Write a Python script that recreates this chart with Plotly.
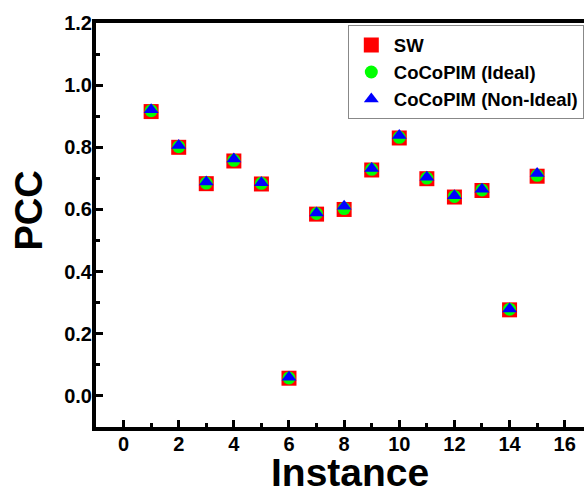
import plotly.graph_objects as go

instances = list(range(1, 16))
sw = [0.915, 0.800, 0.683, 0.756, 0.682, 0.057, 0.585, 0.600, 0.727, 0.830, 0.699, 0.640, 0.661, 0.277, 0.707]
ideal = [0.918, 0.802, 0.685, 0.758, 0.684, 0.058, 0.587, 0.603, 0.729, 0.832, 0.701, 0.642, 0.663, 0.279, 0.710]
non_ideal = [0.921, 0.806, 0.688, 0.762, 0.686, 0.060, 0.589, 0.610, 0.732, 0.838, 0.704, 0.644, 0.665, 0.280, 0.716]

FONT = "Liberation Sans, Arial, sans-serif"

fig = go.Figure()
fig.add_trace(go.Scatter(x=instances, y=sw, mode="markers", name="SW",
                         marker=dict(symbol="square", size=15, color="#ff0000", line=dict(width=0))))
fig.add_trace(go.Scatter(x=instances, y=ideal, mode="markers", name="CoCoPIM (Ideal)",
                         marker=dict(symbol="circle", size=13, color="#00ff00", line=dict(width=0))))
fig.add_trace(go.Scatter(x=instances, y=non_ideal, mode="markers", name="CoCoPIM (Non-Ideal)",
                         marker=dict(symbol="triangle-up", size=13, color="#0000ff", line=dict(width=0))))

axis_common = dict(showline=True, linecolor="black", linewidth=4, showgrid=False, zeroline=False,
                   ticks="inside", ticklen=7, tickwidth=3, tickcolor="black",
                   tickfont=dict(family=FONT, size=20, color="black", weight="bold"))

fig.update_xaxes(range=[-1, 16.7], tick0=0, dtick=2, mirror=True,
                 minor=dict(ticks="inside", ticklen=4, tickwidth=3, tickcolor="black", dtick=1, tick0=0),
                 ticklabelstandoff=-4, **axis_common)
fig.update_yaxes(range=[-0.1, 1.2], tick0=0, dtick=0.2, tickformat=".1f", mirror=False,
                 minor=dict(ticks="inside", ticklen=4, tickwidth=3, tickcolor="black", dtick=0.1, tick0=0),
                 ticklabelstandoff=-4, **axis_common)

fig.add_annotation(text="PCC", xref="paper", yref="paper", x=-0.137, y=0.536, textangle=-90,
                   showarrow=False, xanchor="center", yanchor="middle",
                   font=dict(family=FONT, size=38, color="black", weight="bold"))
fig.add_annotation(text="Instance", xref="paper", yref="paper", x=0.52, y=-0.113,
                   showarrow=False, xanchor="center", yanchor="middle",
                   font=dict(family=FONT, size=39, color="black", weight="bold"))

fig.update_layout(
    width=584, height=488,
    margin=dict(l=96, r=0, t=23, b=61),
    paper_bgcolor="white", plot_bgcolor="white",
    showlegend=True,
    legend=dict(x=0.516, y=0.994, xanchor="left", yanchor="top",
                bgcolor="white", bordercolor="#888888", borderwidth=1,
                font=dict(family=FONT, size=18.5, color="black", weight="bold"),
                tracegroupgap=0, itemsizing="trace", itemwidth=35),
)

fig.write_html("out.html")
